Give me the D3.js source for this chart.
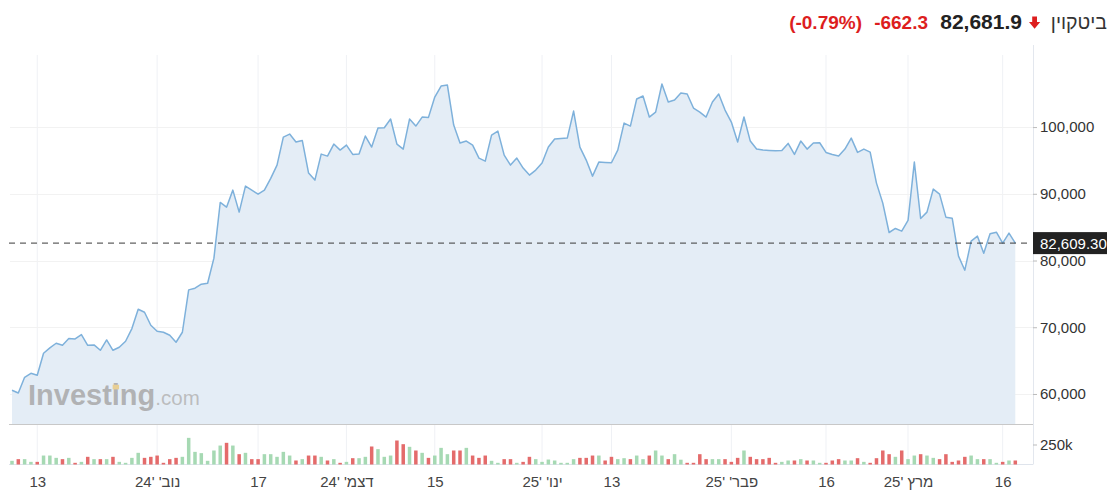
<!DOCTYPE html>
<html><head><meta charset="utf-8">
<script src="https://cdn.jsdelivr.net/npm/d3@7"></script>
<style>
html,body{margin:0;padding:0;background:#fff;}
svg{display:block;font-family:"Liberation Sans",Arial,Helvetica,sans-serif;}
</style></head><body>
<svg id="chart" width="1118" height="498"></svg>
<script>
// ---------- DATA ----------
const dates = [
"2024-10-09","2024-10-10","2024-10-11","2024-10-12","2024-10-13","2024-10-14","2024-10-15","2024-10-16","2024-10-17","2024-10-18","2024-10-19","2024-10-20","2024-10-21","2024-10-22","2024-10-23","2024-10-24","2024-10-25","2024-10-26","2024-10-27","2024-10-28","2024-10-29","2024-10-30","2024-10-31",
"2024-11-01","2024-11-02","2024-11-03","2024-11-04","2024-11-05","2024-11-06","2024-11-07","2024-11-08","2024-11-09","2024-11-10","2024-11-11","2024-11-12","2024-11-13","2024-11-14","2024-11-15","2024-11-16","2024-11-17","2024-11-18","2024-11-19","2024-11-20","2024-11-21","2024-11-22","2024-11-23","2024-11-24","2024-11-25","2024-11-26","2024-11-27","2024-11-28","2024-11-29","2024-11-30",
"2024-12-01","2024-12-02","2024-12-03","2024-12-04","2024-12-05","2024-12-06","2024-12-07","2024-12-08","2024-12-09","2024-12-10","2024-12-11","2024-12-12","2024-12-13","2024-12-14","2024-12-15","2024-12-16","2024-12-17","2024-12-18","2024-12-19","2024-12-20","2024-12-21","2024-12-22","2024-12-23","2024-12-24","2024-12-25","2024-12-26","2024-12-27","2024-12-28","2024-12-29","2024-12-30","2024-12-31",
"2025-01-01","2025-01-02","2025-01-03","2025-01-04","2025-01-05","2025-01-06","2025-01-07","2025-01-08","2025-01-09","2025-01-10","2025-01-12","2025-01-13","2025-01-14","2025-01-15","2025-01-16","2025-01-17","2025-01-18","2025-01-19","2025-01-20","2025-01-21","2025-01-22","2025-01-23","2025-01-24","2025-01-25","2025-01-26","2025-01-27","2025-01-28","2025-01-29","2025-01-30","2025-01-31",
"2025-02-01","2025-02-02","2025-02-03","2025-02-04","2025-02-05","2025-02-06","2025-02-07","2025-02-08","2025-02-09","2025-02-10","2025-02-11","2025-02-12","2025-02-13","2025-02-14","2025-02-15","2025-02-16","2025-02-17","2025-02-18","2025-02-19","2025-02-20","2025-02-21","2025-02-22","2025-02-23","2025-02-24","2025-02-25","2025-02-26","2025-02-27","2025-02-28",
"2025-03-01","2025-03-02","2025-03-03","2025-03-04","2025-03-05","2025-03-06","2025-03-07","2025-03-08","2025-03-09","2025-03-10","2025-03-11","2025-03-12","2025-03-13","2025-03-14","2025-03-15","2025-03-16","2025-03-17","2025-03-18"
];
const closes = [
60550,60150,62500,63100,62800,66100,66900,67600,67300,68300,68250,68900,67300,67350,66550,68100,66550,67000,67900,69800,72700,72250,70300,
69400,69250,68800,67750,69250,75600,75850,76450,76600,80350,88700,88000,90550,87250,91150,90550,89950,90550,92300,94300,98500,98950,97750,98000,93100,92050,95950,95650,97450,96550,
97300,95900,95950,98650,97000,99850,99900,101200,97450,96700,101200,100150,101500,101450,104500,106150,106300,100300,97600,97900,97300,95350,94900,98800,99400,95800,94300,95350,93850,92800,93550,
94600,97000,98200,98300,98350,102400,97000,95050,92650,94750,94700,94650,96550,100600,100150,104200,104650,101500,102250,106450,103750,104050,105100,104950,102850,102250,101500,103750,104950,102550,
100750,97750,101500,97900,96700,96550,96500,96450,96500,97550,95900,97900,96700,97600,97650,96200,95900,95650,96700,98350,96200,96700,96250,91600,88600,84200,84800,84400,
86000,94750,86300,87250,90700,89950,86500,86350,80650,78550,82900,83650,81100,84000,84250,82600,84100,82610
];
// volume, thousands
const volumes = [
46,67,67,33,33,112,112,83,67,83,21,33,96,67,67,67,96,33,21,83,146,83,96,
112,21,67,83,96,333,158,142,46,175,237,271,237,129,146,67,67,129,129,96,158,112,50,67,112,112,96,50,67,21,
33,79,79,96,225,192,96,112,300,254,221,175,146,83,112,208,129,175,175,208,112,83,112,46,21,67,67,21,33,96,67,
33,62,50,21,21,67,83,83,112,112,50,96,67,79,67,112,67,112,175,112,67,129,60,21,21,129,67,67,67,67,
33,83,175,96,67,67,83,21,33,50,50,67,50,50,21,21,50,67,50,50,79,33,21,79,175,129,96,175,
67,112,129,112,83,67,129,33,50,96,112,67,67,67,21,33,50,50
];
const priceTicks = [60000,70000,80000,90000,100000];
const volumeTicks = [250];
const xTickDates = ["2024-10-13","2024-11-01","2024-11-17","2024-12-01","2024-12-15","2025-01-01","2025-01-13","2025-02-01","2025-02-16","2025-03-01","2025-03-16"];
const xTickLabels = ["13","נוב' '24","17","דצמ' '24","15","ינו' '25","13","פבר' '25","16","מרץ '25","16"];
const lastPrice = 82609.30;
const headerName = "ביטקוין";
const headerPrice = "82,681.9";
const headerChange = "-662.3";
const headerPct = "(-0.79%)";

// ---------- LAYOUT ----------
const L = {gridLeft:10, firstX:12, lastX:1015.3, axisX:1033, top:55, mainBottom:424, volBottom:464.5};
const svg = d3.select("#chart");

const x = d3.scalePoint().domain(dates).range([L.firstX, L.lastX]);
const y = d3.scaleLinear().domain([55500,110800]).range([L.mainBottom, L.top]);
const yv = d3.scaleLinear().domain([0,250]).range([L.volBottom, L.volBottom-20]);

const up = "#a6d9b3", down = "#e46b6b";

// vertical grid
svg.append("g").selectAll("line").data(xTickDates).join("line")
  .attr("x1", d=>x(d)).attr("x2", d=>x(d))
  .attr("y1", L.top).attr("y2", L.volBottom)
  .attr("stroke", "#eff1f5").attr("stroke-width", 1);

// horizontal grid
svg.append("g").selectAll("line").data(priceTicks).join("line")
  .attr("x1", L.gridLeft).attr("x2", L.axisX)
  .attr("y1", d=>Math.round(y(d))+0.5).attr("y2", d=>Math.round(y(d))+0.5)
  .attr("stroke", "#f2f2f2").attr("stroke-width", 1);

// area
const area = d3.area().x((d,i)=>x(dates[i])).y0(L.mainBottom).y1(d=>y(d));
svg.append("path").datum(closes).attr("d", area).attr("fill", "#e4edf6");

// watermark
const wm = svg.append("text").attr("x", 28).attr("y", 405)
  .attr("font-size", 29).attr("font-weight", "bold").attr("fill", "#a8a8a8").attr("fill-opacity", 0.85)
  .text("Investing");
const wmEnd = wm.node().getComputedTextLength();
svg.append("text").attr("x", 28 + wmEnd).attr("y", 405)
  .attr("font-size", 20.5).attr("fill", "#b4b4b4").attr("fill-opacity", 0.85).text(".com");
try {
  const ext = wm.node().getExtentOfChar(6);
  svg.append("rect").attr("x", ext.x + ext.width/2 - 3.2).attr("y", ext.y + ext.height*0.18)
    .attr("width", 6.4).attr("height", 4.6).attr("fill", "#e8cf95");
} catch(e) {}

// line
const line = d3.line().x((d,i)=>x(dates[i])).y(d=>y(d));
svg.append("path").datum(closes).attr("d", line)
  .attr("fill", "none").attr("stroke", "#7eb1db").attr("stroke-width", 1.5).attr("stroke-linejoin", "round");

// separator & panel lines
svg.append("line").attr("x1", L.gridLeft-1).attr("x2", L.axisX).attr("y1", L.mainBottom+0.5).attr("y2", L.mainBottom+0.5)
  .attr("stroke", "#c8c8c8");
svg.append("line").attr("x1", L.gridLeft-1).attr("x2", L.axisX).attr("y1", L.volBottom).attr("y2", L.volBottom)
  .attr("stroke", "#dfe4ec");
svg.append("line").attr("x1", L.axisX+0.5).attr("x2", L.axisX+0.5).attr("y1", L.top-10).attr("y2", L.volBottom)
  .attr("stroke", "#e3e7ee");

// volume bars
svg.append("g").selectAll("rect").data(volumes).join("rect")
  .attr("x", (d,i)=>x(dates[i])-1.75).attr("width", 3.5)
  .attr("y", d=>yv(d)).attr("height", d=>yv(0)-yv(d))
  .attr("fill", (d,i)=> (i===0 || closes[i]>=closes[i-1]) ? up : down);

// dashed last price line
svg.append("line").attr("x1", 9).attr("x2", L.axisX-2)
  .attr("y1", y(lastPrice)).attr("y2", y(lastPrice))
  .attr("stroke", "#3a3a3a").attr("stroke-width", 1).attr("stroke-dasharray", "6,5");

// y axis (price)
const yAxis = svg.append("g").attr("transform", `translate(${L.axisX},0)`)
  .call(d3.axisRight(y).tickValues(priceTicks).tickSize(4).tickPadding(3).tickFormat(d3.format(",")));
yAxis.select(".domain").remove();
yAxis.selectAll("line").attr("stroke", "#bbb");
yAxis.selectAll("text").attr("font-size", 15).attr("fill", "#333").attr("font-family", "Liberation Sans, Arial, sans-serif");

// y axis (volume)
const vAxis = svg.append("g").attr("transform", `translate(${L.axisX},0)`)
  .call(d3.axisRight(yv).tickValues(volumeTicks).tickSize(4).tickPadding(3).tickFormat(d=>d+"k"));
vAxis.select(".domain").remove();
vAxis.selectAll("line").attr("stroke", "#bbb");
vAxis.selectAll("text").attr("font-size", 15).attr("fill", "#333").attr("font-family", "Liberation Sans, Arial, sans-serif");

// x axis
const xAxis = svg.append("g").attr("transform", `translate(0,${L.volBottom})`)
  .call(d3.axisBottom(x).tickValues(xTickDates).tickSize(0).tickPadding(12).tickFormat((d,i)=>xTickLabels[i]));
xAxis.select(".domain").remove();
xAxis.selectAll("text").attr("font-size", 15).attr("fill", "#444").attr("font-family", "Liberation Sans, Arial, sans-serif");

// last price label
const ly = y(lastPrice);
svg.append("rect").attr("x", L.axisX).attr("y", ly-11).attr("width", 74).attr("height", 22).attr("fill", "#222");
svg.append("text").attr("x", L.axisX+7).attr("y", ly).attr("dy", "0.36em")
  .attr("font-size", 15).attr("fill", "#fff").text(d3.format(",.2f")(lastPrice));

// header
const hy = 29;
svg.append("text").attr("x", 1107).attr("y", hy).attr("text-anchor", "end")
  .attr("font-size", 19.5).attr("fill", "#333").text(headerName);
svg.append("path")
  .attr("d", "M1032.2,16.5 h4.8 v5.6 h3.2 l-5.6,6.6 l-5.6,-6.6 h3.2 z")
  .attr("fill", "#dd1e1e");
svg.append("text").attr("x", 1022).attr("y", hy).attr("text-anchor", "end")
  .attr("font-size", 21).attr("font-weight", "bold").attr("fill", "#222").text(headerPrice);
svg.append("text").attr("x", 928).attr("y", hy).attr("text-anchor", "end")
  .attr("font-size", 19).attr("font-weight", "bold").attr("fill", "#dd1e1e").text(headerChange);
svg.append("text").attr("x", 862).attr("y", hy).attr("text-anchor", "end")
  .attr("font-size", 19).attr("font-weight", "bold").attr("fill", "#dd1e1e").text(headerPct);
</script>
</body></html>
